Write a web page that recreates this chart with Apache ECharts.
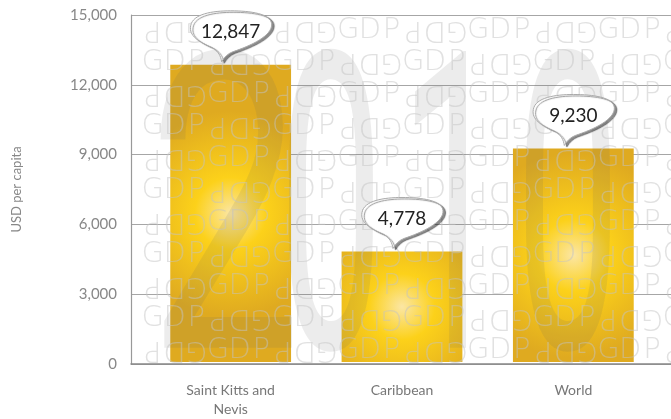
<!DOCTYPE html>
<html>
<head>
<meta charset="utf-8">
<script src="https://cdn.jsdelivr.net/npm/echarts@6/dist/echarts.min.js"></script>
<style>html,body{margin:0;padding:0;background:#fff}#c{width:671px;height:419px}</style>
</head>
<body>
<div id="c"></div>
<script>
const categories = ['Saint Kitts and\nNevis', 'Caribbean', 'World'];
const gdpValues = [12847, 4778, 9230];
const yMin = 0, yMax = 15000, yStep = 3000;
const yAxisTitle = 'USD per capita';
const watermarkYear = ['2', '0', '1', '0'];

const fmt = v => String(v).replace(/\B(?=(\d{3})+(?!\d))/g, ',');
const chart = echarts.init(document.getElementById('c'));

// background watermark pattern: rows of "GDP" alternating upright / rotated
const graphics = [];
const pitch = 21.7;
for (let k = 0; k < 11; k++) {
  const y = 30 + 32 * k;
  for (let j = 0; j < 9; j++) {
    const gx = 142 + j * 3 * pitch;
    const rotated = (j + k) % 2 === 0;
    const letters = rotated ? ['P', 'D', 'G'] : ['G', 'D', 'P'];
    letters.forEach((ch, i) => {
      const cx = gx + pitch * (i + 0.5);
      if (cx > 690) return;
      graphics.push({
        type: 'text', x: cx, y: y, rotation: rotated ? Math.PI : 0, z: 6, silent: true,
        style: { text: ch, x: 0, y: 0, align: 'center', verticalAlign: 'middle',
          font: '200 29px "DejaVu Sans"', fill: 'rgba(195,195,195,0.5)' }
      });
    });
  }
}
// big year watermark
const yearPos = [[225, 0.66], [331, 0.45], [452, 0.45], [568, 0.45]];
watermarkYear.forEach((ch, i) => {
  graphics.push({
    type: 'text', x: yearPos[i][0], y: 244, scaleX: yearPos[i][1], z: 5, silent: true,
    style: { text: ch, x: 0, y: 0, align: 'center', verticalAlign: 'middle',
      font: '400 415px Roboto', fill: 'rgba(100,100,100,0.12)' }
  });
});

const bubblePath = 'M -9 30 C -10 24 -12 20 -18 16 C -32 10 -42 4 -40 -6 C -38 -18 -18 -21 0 -21 C 20 -21 40 -18 41 -8 C 42 4 20 14 2 20 C -3 22 -6 25 -9 30 Z';

chart.setOption({
  animation: false,
  graphic: graphics,
  grid: [
    { left: 131, right: 0, top: 15, bottom: 55 },
    { left: 145, right: 12, top: 15, bottom: 55 }
  ],
  xAxis: [
    { type: 'category', gridIndex: 0, data: categories,
      axisLine: { show: true, lineStyle: { color: '#888', width: 1.5 } },
      axisTick: { show: false }, axisLabel: { show: false } },
    { type: 'category', gridIndex: 1, data: categories,
      axisLine: { show: false }, axisTick: { show: false },
      axisLabel: { margin: 19, color: '#777', fontSize: 14, fontFamily: 'Lato', lineHeight: 19 } }
  ],
  yAxis: [
    { type: 'value', gridIndex: 0, min: yMin, max: yMax, interval: yStep,
      name: yAxisTitle, nameLocation: 'middle', nameRotate: 90, nameGap: 108,
      nameTextStyle: { color: '#888', fontSize: 13, fontFamily: 'Lato' },
      axisLine: { show: true, lineStyle: { color: '#999', width: 1.2 } },
      axisTick: { show: false },
      axisLabel: { margin: 14, color: '#888', fontSize: 15, fontFamily: 'Lato', formatter: v => fmt(v) },
      splitLine: { lineStyle: { color: '#a6a6a6', width: 1.2 } } },
    { type: 'value', gridIndex: 1, min: yMin, max: yMax, interval: yStep, show: false,
      splitLine: { show: false } }
  ],
  series: [
    { type: 'bar', xAxisIndex: 1, yAxisIndex: 1, data: gdpValues, barWidth: '70.5%', z: 2,
      itemStyle: { color: { type: 'radial', x: 0.5, y: 0.5, r: 0.85, colorStops: [
        { offset: 0, color: '#fbe6a4' }, { offset: 0.35, color: '#fcd11a' }, { offset: 1, color: '#dfaa20' } ] } } },
    { type: 'custom', xAxisIndex: 1, yAxisIndex: 1, data: gdpValues.map((v, i) => [i, v]), z: 10,
      renderItem: (params, api) => {
        const p = api.coord([api.value(0), api.value(1)]);
        const cx = p[0], cy = p[1] - 33;
        return { type: 'group', x: cx, y: cy, children: [
          { type: 'path', shape: { pathData: bubblePath },
            style: { fill: '#fff', stroke: '#aaa', lineWidth: 1,
              shadowColor: 'rgba(0,0,0,0.45)', shadowOffsetX: 2.5, shadowOffsetY: 1.5, shadowBlur: 1 } },
          { type: 'text', style: { text: fmt(api.value(1)), x: 0, y: 0, align: 'center', verticalAlign: 'middle',
            font: '19px Lato', fill: '#222' } }
        ] };
      } }
  ]
});
</script>
</body>
</html>
